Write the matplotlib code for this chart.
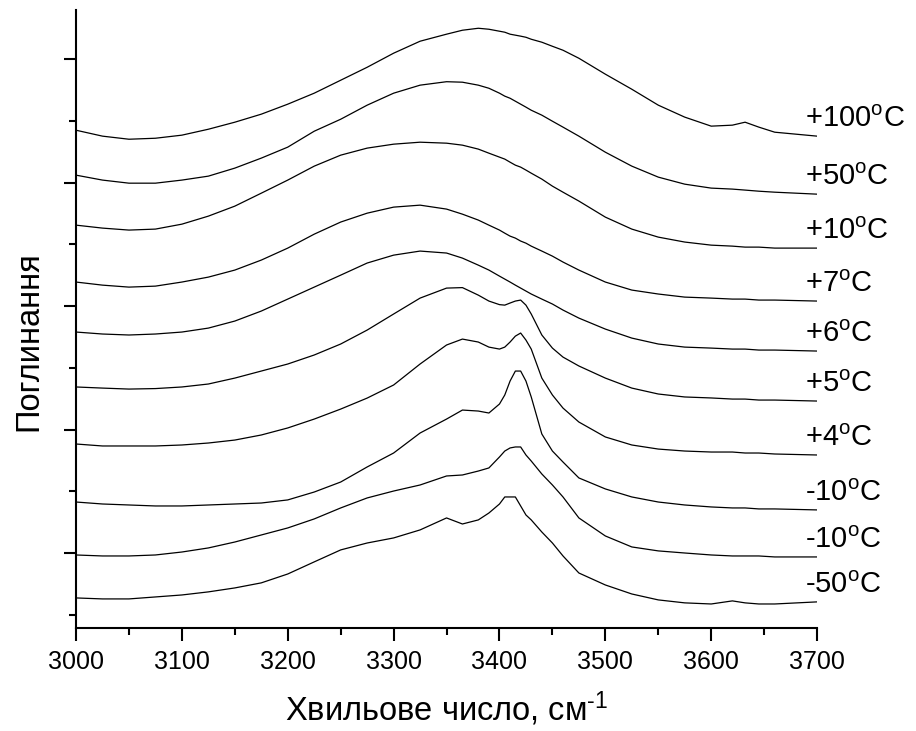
import matplotlib
matplotlib.use("Agg")
import matplotlib.pyplot as plt
from matplotlib.ticker import MultipleLocator

# wavenumber grid, cm-1
wavenumber = [3000, 3025, 3050, 3075, 3100, 3125, 3150, 3175, 3200, 3225,
              3250, 3275, 3300, 3325, 3350, 3365, 3380, 3390, 3400, 3405,
              3410, 3415, 3420, 3425, 3430, 3440, 3450, 3460, 3475, 3500,
              3525, 3550, 3575, 3600, 3620, 3632, 3645, 3660, 3700]

# stacked absorbance spectra (offsets included), top to bottom
a_p100 = [4.425, 4.377, 4.352, 4.360, 4.385, 4.433, 4.490, 4.555, 4.636, 4.725,
          4.830, 4.935, 5.049, 5.146, 5.203, 5.235, 5.251, 5.243, 5.227, 5.219,
          5.203, 5.195, 5.187, 5.178, 5.162, 5.138, 5.105, 5.073, 5.008, 4.879,
          4.757, 4.628, 4.531, 4.458, 4.466, 4.490, 4.450, 4.409, 4.377]
a_p50 = [4.061, 4.021, 3.996, 3.996, 4.021, 4.053, 4.118, 4.199, 4.288, 4.417,
         4.514, 4.628, 4.725, 4.790, 4.818, 4.814, 4.790, 4.765, 4.725, 4.701,
         4.684, 4.660, 4.636, 4.612, 4.587, 4.547, 4.498, 4.450, 4.377, 4.247,
         4.134, 4.045, 3.988, 3.956, 3.948, 3.940, 3.931, 3.923, 3.907]
a_p10 = [3.656, 3.632, 3.616, 3.624, 3.664, 3.729, 3.810, 3.915, 4.021, 4.134,
         4.223, 4.280, 4.312, 4.328, 4.320, 4.304, 4.272, 4.239, 4.207, 4.191,
         4.166, 4.142, 4.126, 4.102, 4.077, 4.029, 3.972, 3.923, 3.851, 3.721,
         3.624, 3.559, 3.519, 3.494, 3.486, 3.478, 3.478, 3.470, 3.470]
a_p7 = [3.195, 3.170, 3.154, 3.162, 3.195, 3.235, 3.292, 3.373, 3.470, 3.583,
        3.681, 3.753, 3.802, 3.818, 3.786, 3.745, 3.697, 3.656, 3.616, 3.591,
        3.567, 3.551, 3.527, 3.510, 3.486, 3.446, 3.405, 3.357, 3.292, 3.195,
        3.130, 3.098, 3.073, 3.065, 3.057, 3.057, 3.049, 3.049, 3.041]
a_p6 = [2.790, 2.774, 2.766, 2.774, 2.790, 2.822, 2.879, 2.960, 3.057, 3.154,
        3.251, 3.349, 3.413, 3.446, 3.430, 3.389, 3.332, 3.292, 3.243, 3.219,
        3.195, 3.170, 3.146, 3.122, 3.098, 3.057, 3.017, 2.968, 2.903, 2.814,
        2.741, 2.693, 2.668, 2.660, 2.652, 2.652, 2.644, 2.644, 2.636]
a_p5 = [2.345, 2.336, 2.328, 2.332, 2.345, 2.369, 2.417, 2.474, 2.531, 2.604,
        2.693, 2.806, 2.936, 3.065, 3.146, 3.150, 3.089, 3.041, 3.012, 3.008,
        3.025, 3.041, 3.049, 3.008, 2.936, 2.766, 2.660, 2.587, 2.515, 2.417,
        2.336, 2.288, 2.264, 2.256, 2.247, 2.247, 2.239, 2.239, 2.231]
a_p4 = [1.883, 1.867, 1.867, 1.867, 1.875, 1.891, 1.915, 1.956, 2.013, 2.085,
        2.166, 2.255, 2.361, 2.531, 2.685, 2.733, 2.709, 2.668, 2.652, 2.668,
        2.709, 2.757, 2.782, 2.725, 2.652, 2.417, 2.280, 2.174, 2.061, 1.940,
        1.875, 1.842, 1.826, 1.818, 1.818, 1.810, 1.810, 1.802, 1.794]
a_m10a = [1.413, 1.397, 1.389, 1.381, 1.381, 1.389, 1.397, 1.405, 1.430, 1.494,
          1.575, 1.697, 1.810, 1.972, 2.085, 2.158, 2.150, 2.134, 2.207, 2.280,
          2.393, 2.474, 2.474, 2.393, 2.264, 1.964, 1.826, 1.737, 1.608, 1.519,
          1.454, 1.413, 1.389, 1.373, 1.365, 1.365, 1.357, 1.357, 1.349]
a_m10b = [0.984, 0.976, 0.976, 0.984, 1.008, 1.041, 1.089, 1.146, 1.203, 1.276,
          1.365, 1.446, 1.502, 1.551, 1.624, 1.632, 1.664, 1.689, 1.778, 1.826,
          1.851, 1.859, 1.859, 1.794, 1.745, 1.640, 1.551, 1.454, 1.284, 1.138,
          1.049, 1.017, 1.000, 0.984, 0.976, 0.976, 0.976, 0.968, 0.968]
a_m50 = [0.636, 0.628, 0.628, 0.644, 0.660, 0.685, 0.717, 0.758, 0.830, 0.928,
         1.025, 1.081, 1.122, 1.187, 1.284, 1.235, 1.268, 1.324, 1.397, 1.454,
         1.454, 1.454, 1.381, 1.308, 1.268, 1.170, 1.081, 0.976, 0.838, 0.741,
         0.668, 0.620, 0.596, 0.587, 0.612, 0.596, 0.587, 0.587, 0.604]

spectra = [a_p100, a_p50, a_p10, a_p7, a_p6, a_p5, a_p4, a_m10a, a_m10b, a_m50]
temps = ["+100", "+50", "+10", "+7", "+6", "+5", "+4", "-10", "-10", "-50"]

plt.rcParams["font.family"] = ["Liberation Sans", "DejaVu Sans"]
plt.rcParams["mathtext.fontset"] = "custom"
plt.rcParams["mathtext.rm"] = "Liberation Sans"
plt.rcParams["mathtext.it"] = "Liberation Sans:italic"

fig = plt.figure(figsize=(9.16, 7.31), dpi=100)
ax = fig.add_axes([0.083, 0.141, 0.809, 0.845])

for vals, t in zip(spectra, temps):
    ax.plot(wavenumber, vals, color="black", lw=0.9)
    ax.text(3689, vals[-1] + 0.135, t + r"$^{\mathrm{o}}$C", fontsize=21,
            ha="left", va="center", clip_on=False)

ax.set_xlim(3000, 3700)
ax.set_ylim(0.393, 5.397)
ax.xaxis.set_major_locator(MultipleLocator(100))
ax.xaxis.set_minor_locator(MultipleLocator(50))
ax.yaxis.set_major_locator(MultipleLocator(1))
ax.yaxis.set_minor_locator(MultipleLocator(0.5))

for side in ["top", "right"]:
    ax.spines[side].set_visible(False)
for side in ["left", "bottom"]:
    ax.spines[side].set_linewidth(1.5)

ax.tick_params(which="major", direction="out", length=9, width=1.5,
               labelsize=18, pad=7)
ax.tick_params(which="minor", direction="out", length=5, width=1.5)
ax.tick_params(axis="y", labelleft=False)

ax.set_xlabel(r"Хвильове число, см$^{\text{-1}}$", fontsize=23.5)
ax.xaxis.set_label_coords(0.5, -0.1505)
ax.xaxis.label.set_va("baseline")

ax.set_ylabel("Поглинання", fontsize=23.5)
ax.yaxis.set_label_coords(-0.0526, 0.464)
ax.yaxis.label.set_va("baseline")

fig.savefig("out.png", dpi=100)
